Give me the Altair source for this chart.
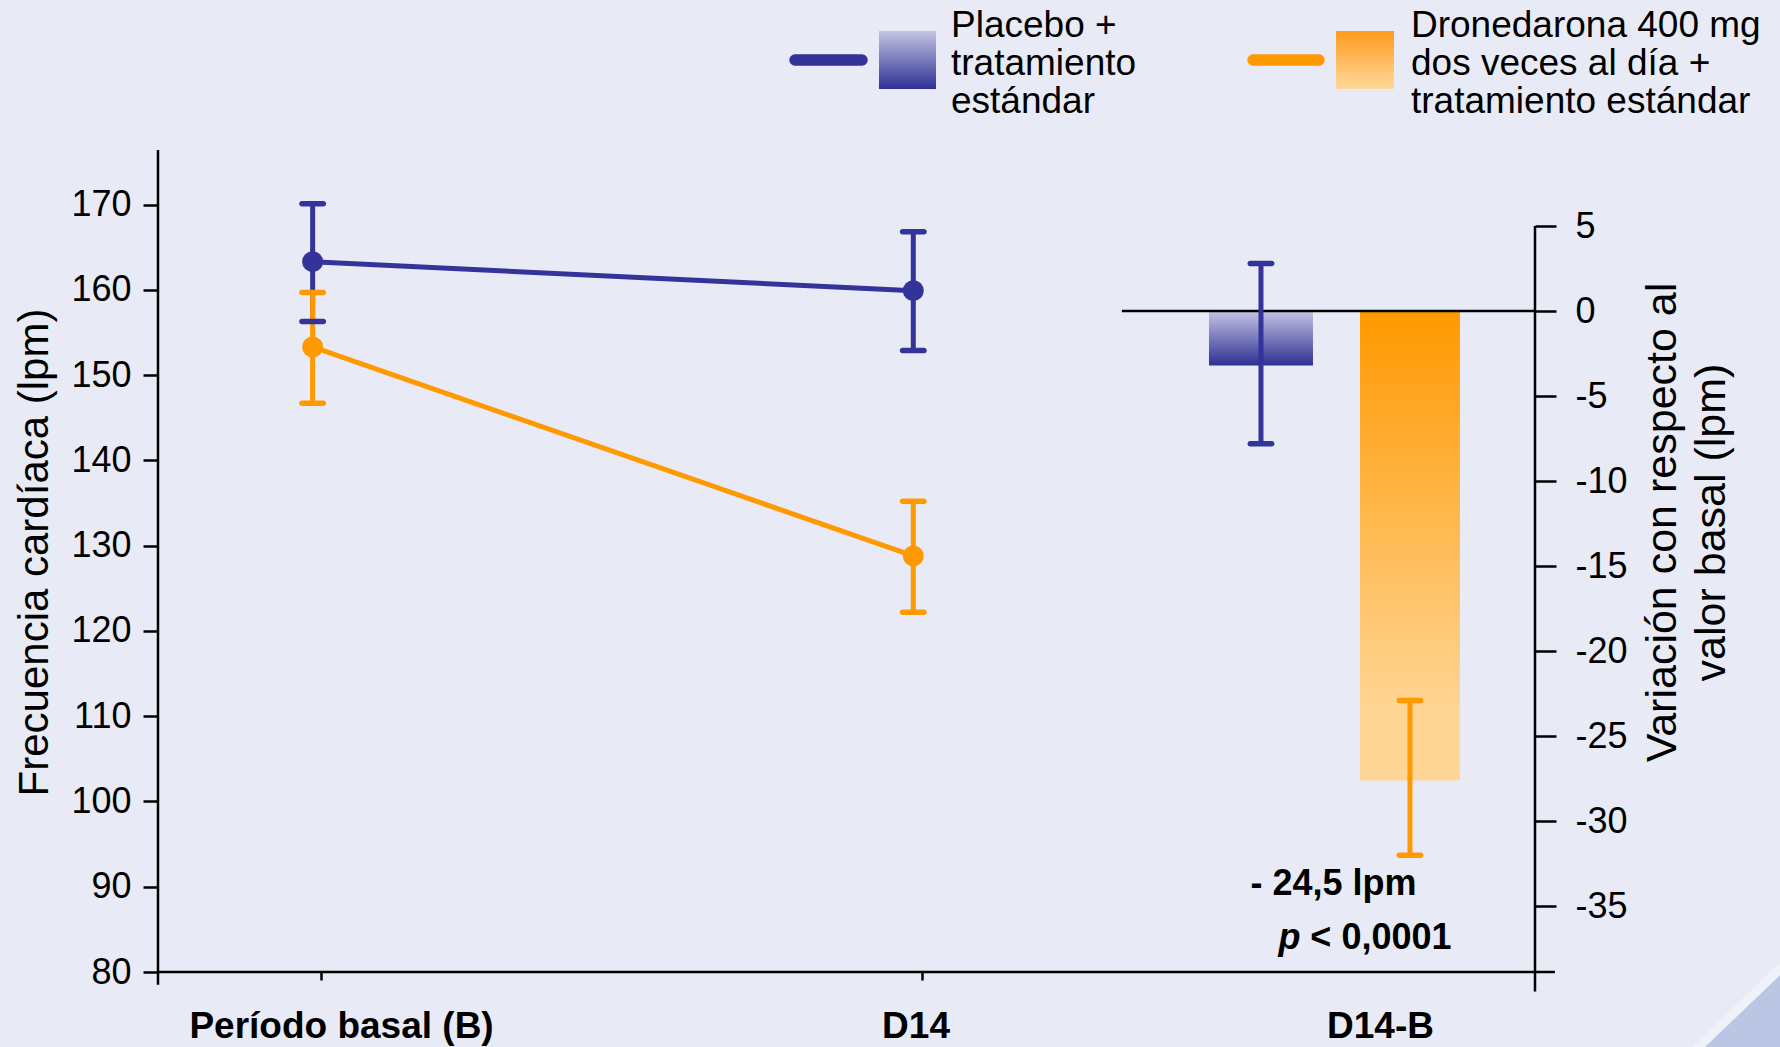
import altair as alt
import pandas as pd

# ---------------- values ----------------
visits = ["Período basal (B)", "D14"]
treatments = ["Placebo", "Dronedarona"]

# heart rate (lpm), mean with error bar ends
placebo_mean = [163.3, 159.9]
placebo_low = [156.3, 152.9]
placebo_high = [170.1, 166.8]

dronedarone_mean = [153.3, 128.8]
dronedarone_low = [146.7, 122.2]
dronedarone_high = [159.7, 135.2]

# change from baseline (D14 - B), lpm
change_mean = [-3.2, -27.6]
change_low = [-7.8, -32.0]
change_high = [2.8, -22.9]

change_category = "D14-B"
difference_text = "- 24,5 lpm"
p_symbol = "p"
p_value_text = "< 0,0001"

legend_text = {
    "Placebo": ["Placebo +", "tratamiento", "estándar"],
    "Dronedarona": ["Dronedarona 400 mg", "dos veces al día +", "tratamiento estándar"],
}

hr_ticks = [80, 90, 100, 110, 120, 130, 140, 150, 160, 170]
change_ticks = [5, 0, -5, -10, -15, -20, -25, -30, -35]

# ---------------- layout ----------------
FONT = "Liberation Sans"
BG = "#E8EBF5"
BLUE = "#33339A"
ORANGE = "#FF9900"

PLOT_W, PLOT_H = 1377, 822
PAD = {"left": 158, "top": 150, "right": 245, "bottom": 75}

X_SCALE = alt.Scale(domain=[0, 100], nice=False, zero=False, padding=0)
HR_SCALE = alt.Scale(domain=[80, 176.4], nice=False, zero=False, padding=0)
CH_SCALE = alt.Scale(domain=[-38.86, 9.47], nice=False, zero=False, padding=0)

VISIT_SLOT = {"Período basal (B)": 11.23, "D14": 54.85}
VISIT_TICKS = [11.84, 55.48]
LABEL_SLOT = {"Período basal (B)": 13.33, "D14": 55.05, "D14-B": 88.78}
CHANGE_SLOT = {"Placebo": 80.10, "Dronedarona": 90.92}
BAR_WIDTH = {"Placebo": 104, "Dronedarona": 100}

X_AX = alt.Axis(values=VISIT_TICKS, labels=False, title=None, domain=False,
                grid=False, tickSize=8, tickWidth=2.5, tickColor="black")

HR_AX = alt.Axis(values=hr_ticks, title="Frecuencia cardíaca (lpm)",
                 titleAngle=270, titleX=-111, titleY=402, titleAlign="center",
                 titleBaseline="alphabetic", titleFontSize=42, titleFontWeight="normal",
                 labelFontSize=36, labelPadding=12, tickSize=15, tickWidth=2.5,
                 domain=False, grid=False)

CH_AX = alt.Axis(orient="right", values=change_ticks,
                 title=["Variación con respecto al", "valor basal (lpm)"],
                 titleAngle=270, titleX=140, titleY=372, titleAlign="center",
                 titleBaseline="alphabetic", titleLineHeight=49, titleFontSize=43,
                 titleFontWeight="normal", labelFontSize=36, labelPadding=19,
                 labelAlign="left", labelExpr="toString(datum.value)",
                 tickSize=21, tickWidth=2.5, domain=False, grid=False)

PLACEBO_GRAD = alt.Gradient(
    gradient="linear", x1=0, y1=0, x2=0, y2=1,
    stops=[alt.GradientStop(offset=0, color="#C4C4E4"),
           alt.GradientStop(offset=1, color="#2E3094")])
DRONE_GRAD = alt.Gradient(
    gradient="linear", x1=0, y1=0, x2=0, y2=1,
    stops=[alt.GradientStop(offset=0, color="#FF9900"),
           alt.GradientStop(offset=0.85, color="#FFD595"),
           alt.GradientStop(offset=1, color="#FFD697")])
DRONE_KEY_GRAD = alt.Gradient(
    gradient="linear", x1=0, y1=0, x2=0, y2=1,
    stops=[alt.GradientStop(offset=0, color="#FF9A1E"),
           alt.GradientStop(offset=1, color="#FFD99B")])

# ---------------- tables ----------------
hr = pd.DataFrame({
    "treatment": ["Placebo"] * 2 + ["Dronedarona"] * 2,
    "visit": visits + visits,
    "mean": placebo_mean + dronedarone_mean,
    "low": placebo_low + dronedarone_low,
    "high": placebo_high + dronedarone_high,
})
hr["slot"] = hr["visit"].map(VISIT_SLOT)

chg = pd.DataFrame({
    "treatment": treatments,
    "mean": change_mean,
    "low": change_low,
    "high": change_high,
})
chg["slot"] = chg["treatment"].map(CHANGE_SLOT)
chg["zero"] = 0.0

cat_labels = pd.DataFrame({"label": visits + [change_category]})
cat_labels["slot"] = cat_labels["label"].map(LABEL_SLOT)

one = pd.DataFrame({"k": [0]})

color = alt.Color("treatment:N",
                  scale=alt.Scale(domain=treatments, range=[BLUE, ORANGE]),
                  legend=None)
x_slot = alt.X("slot:Q", scale=X_SCALE, axis=X_AX)

# ---------------- background corner shading ----------------
CORNER = dict(x=alt.value(1508), y=alt.value(1073), x2=alt.value(1800), y2=alt.value(793))
corner_glow = alt.Chart(one).mark_rule(strokeWidth=218, color="#F3F5FB", opacity=0.7).encode(**CORNER)
corner_shade = alt.Chart(one).mark_rule(strokeWidth=200, color="#BAC6E4").encode(**CORNER)

# ---------------- heart rate panel (left scale) ----------------
base_hr = alt.Chart(hr)

hr_lines = base_hr.mark_line(strokeWidth=5).encode(
    x=x_slot, y=alt.Y("mean:Q", scale=HR_SCALE, axis=HR_AX),
    color=color, detail="treatment:N")

hr_rules = base_hr.mark_rule(strokeWidth=5).encode(
    x=x_slot, y=alt.Y("low:Q", scale=HR_SCALE, axis=HR_AX), y2="high:Q",
    color=color)

hr_caps = base_hr.transform_fold(["low", "high"], as_=["end", "value"]).mark_tick(
    orient="horizontal", size=27, thickness=5.5, cornerRadius=2.75, opacity=1
).encode(x=x_slot, y=alt.Y("value:Q", scale=HR_SCALE, axis=HR_AX), color=color)

hr_points = base_hr.mark_circle(size=440, opacity=1).encode(
    x=x_slot, y=alt.Y("mean:Q", scale=HR_SCALE, axis=HR_AX), color=color)

hr_axis_line = alt.Chart(one).mark_rule(strokeWidth=2.5, color="black").encode(
    x=alt.XDatum(0, scale=X_SCALE, axis=X_AX),
    y=alt.YDatum(78.5, scale=HR_SCALE, axis=HR_AX),
    y2=alt.Y2Datum(176.4))

base_axis_line = alt.Chart(one).mark_rule(strokeWidth=2.5, color="black").encode(
    x=alt.XDatum(0, scale=X_SCALE, axis=X_AX),
    x2=alt.X2Datum(101.45),
    y=alt.YDatum(80, scale=HR_SCALE, axis=HR_AX))

cat_text = alt.Chart(cat_labels).mark_text(
    font=FONT, fontSize=37, fontWeight="bold", color="black",
    align="center", baseline="alphabetic"
).encode(x=x_slot, y=alt.value(888), text="label:N")

left_group = alt.layer(base_axis_line, hr_lines, hr_rules, hr_caps, hr_points,
                       hr_axis_line, cat_text)

# ---------------- change panel (right scale) ----------------
def change_bar(name, grad):
    return alt.Chart(chg).transform_filter(alt.datum.treatment == name).mark_bar(
        fill=grad, size=BAR_WIDTH[name], opacity=1
    ).encode(x=x_slot, y=alt.Y("mean:Q", scale=CH_SCALE, axis=CH_AX), y2="zero:Q")

bar_placebo = change_bar("Placebo", PLACEBO_GRAD)
bar_drone = change_bar("Dronedarona", DRONE_GRAD)

zero_line = alt.Chart(one).mark_rule(strokeWidth=2.5, color="black").encode(
    x=alt.XDatum(70, scale=X_SCALE, axis=X_AX), x2=alt.X2Datum(100),
    y=alt.YDatum(0, scale=CH_SCALE, axis=CH_AX))

ch_rules = alt.Chart(chg).mark_rule(strokeWidth=5).encode(
    x=x_slot, y=alt.Y("low:Q", scale=CH_SCALE, axis=CH_AX), y2="high:Q",
    color=color)

ch_caps = alt.Chart(chg).transform_fold(["low", "high"], as_=["end", "value"]).mark_tick(
    orient="horizontal", size=27, thickness=5.5, cornerRadius=2.75, opacity=1
).encode(x=x_slot, y=alt.Y("value:Q", scale=CH_SCALE, axis=CH_AX), color=color)

ch_axis_line = alt.Chart(one).mark_rule(strokeWidth=2.5, color="black").encode(
    x=alt.XDatum(100, scale=X_SCALE, axis=X_AX),
    y=alt.YDatum(5, scale=CH_SCALE, axis=CH_AX),
    y2=alt.Y2Datum(-40))

anchor_x = alt.XDatum(LABEL_SLOT[change_category], scale=X_SCALE, axis=X_AX)
diff_note = alt.Chart(one).mark_text(
    font=FONT, fontSize=36, fontWeight="bold", color="black",
    align="center", baseline="alphabetic", dx=-47
).encode(x=anchor_x, y=alt.value(745), text=alt.value(difference_text))
p_note = alt.Chart(one).mark_text(
    font=FONT, fontSize=36, fontWeight="bold", fontStyle="italic", color="black",
    align="left", baseline="alphabetic", dx=-102
).encode(x=anchor_x, y=alt.value(799), text=alt.value(p_symbol))
pval_note = alt.Chart(one).mark_text(
    font=FONT, fontSize=36, fontWeight="bold", color="black",
    align="right", baseline="alphabetic", dx=71
).encode(x=anchor_x, y=alt.value(799), text=alt.value(p_value_text))

right_group = alt.layer(bar_placebo, bar_drone, zero_line, ch_rules, ch_caps,
                        ch_axis_line, diff_note, p_note, pval_note)

# ---------------- key above the plot ----------------
def key_item(name, line_x, box_x, text_x, fill, stroke):
    base = alt.Chart(one)
    swatch = base.mark_rule(strokeWidth=11.5, strokeCap="round", color=stroke).encode(
        x=alt.value(line_x[0]), x2=alt.value(line_x[1]), y=alt.value(-90))
    box = base.mark_rect(fill=fill, opacity=1).encode(
        x=alt.value(box_x[0]), x2=alt.value(box_x[1]),
        y=alt.value(-119), y2=alt.value(-61))
    label = base.mark_text(
        text=legend_text[name], font=FONT, fontSize=37, lineHeight=37.8,
        color="black", align="left", baseline="alphabetic"
    ).encode(x=alt.value(text_x), y=alt.value(-113))
    return [swatch, box, label]

key_layers = (key_item("Placebo", (637, 704), (721, 778), 793, PLACEBO_GRAD, BLUE)
              + key_item("Dronedarona", (1095, 1161), (1178, 1236), 1253,
                         DRONE_KEY_GRAD, ORANGE))

chart = alt.layer(
    corner_glow, corner_shade, left_group, right_group, *key_layers
).resolve_scale(y="independent").properties(
    width=PLOT_W, height=PLOT_H, padding=PAD,
    autosize=alt.AutoSizeParams(type="none")
).configure(background=BG, font=FONT).configure_view(stroke=None).configure_axis(
    labelFont=FONT, titleFont=FONT, labelColor="black", titleColor="black",
    tickColor="black"
)

chart.save("out.html", embed_options={"renderer": "svg", "actions": False})
